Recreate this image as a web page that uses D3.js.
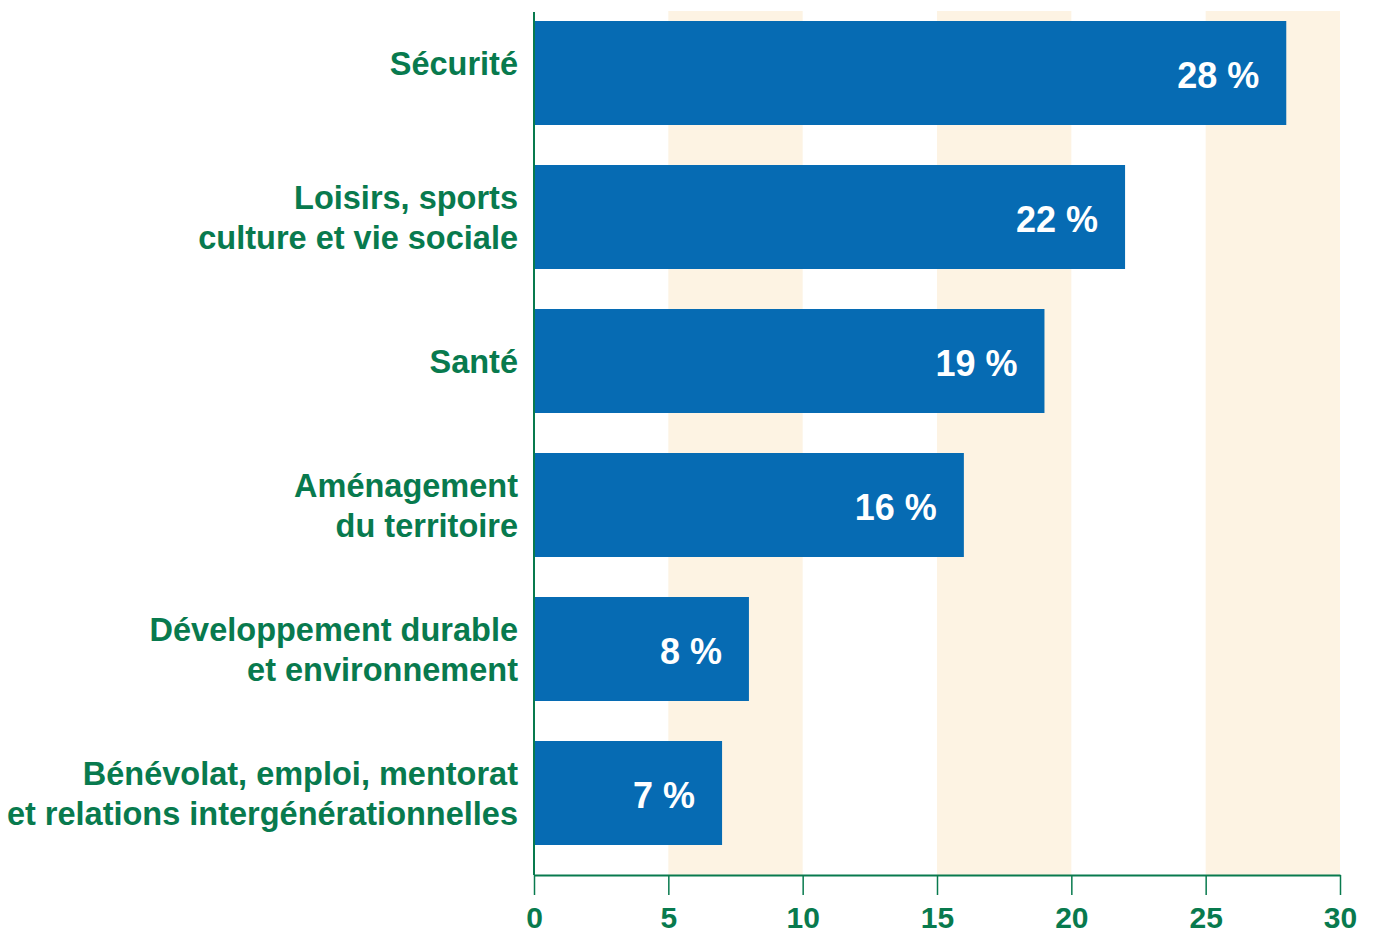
<!DOCTYPE html>
<html>
<head>
<meta charset="utf-8">
<script src="https://cdn.jsdelivr.net/npm/d3@7"></script>
<style>
  html, body { margin: 0; padding: 0; background: #ffffff; }
  svg { display: block; }
  text { font-family: "Liberation Sans", Arial, Helvetica, sans-serif; font-weight: bold; }
</style>
</head>
<body>
<svg id="chart" width="1373" height="937"></svg>
<script>
const categories = [
  ["Sécurité"],
  ["Loisirs, sports", "culture et vie sociale"],
  ["Santé"],
  ["Aménagement", "du territoire"],
  ["Développement durable", "et environnement"],
  ["Bénévolat, emploi, mentorat", "et relations intergénérationnelles"]
];
const values = [28, 22, 19, 16, 8, 7];
const tickValues = [0, 5, 10, 15, 20, 25, 30];
const shadedBands = [[5, 10], [15, 20], [25, 30]];

const GREEN = "#087a4e";
const BLUE = "#066bb3";
const BAND = "#fdf3e3";

const svg = d3.select("#chart");
const keys = categories.map(c => c.join(" "));

const x = d3.scaleLinear().domain([0, 30]).range([534, 1340]);
const y = d3.scaleBand().domain(keys).range([1, 865]).paddingInner(40 / 144).paddingOuter(20 / 144);
const axisY = 875;
const topY = 11;

// shaded bands
svg.append("g").selectAll("rect").data(shadedBands).join("rect")
  .attr("x", d => x(d[0]))
  .attr("width", d => x(d[1]) - x(d[0]))
  .attr("y", topY)
  .attr("height", axisY - topY)
  .attr("fill", BAND);

// bars
svg.append("g").selectAll("rect").data(values).join("rect")
  .attr("x", x(0))
  .attr("y", (d, i) => y(keys[i]))
  .attr("width", d => x(d) - x(0))
  .attr("height", y.bandwidth())
  .attr("fill", BLUE);

// value labels
svg.append("g").selectAll("text").data(values).join("text")
  .attr("x", d => x(d) - 27)
  .attr("y", (d, i) => y(keys[i]) + y.bandwidth() / 2 + 2)
  .attr("dy", "0.36em")
  .attr("text-anchor", "end")
  .attr("fill", "#ffffff")
  .attr("font-size", 36)
  .text(d => d + " %");

// category labels
const lab = svg.append("g").selectAll("text").data(categories).join("text")
  .attr("text-anchor", "end")
  .attr("fill", GREEN)
  .attr("font-size", 32.5)
  .attr("x", 518)
  .attr("y", (d, i) => y(keys[i]) + y.bandwidth() / 2 - (d.length - 1) * 20 - (i === 0 ? 10 : 0));
lab.selectAll("tspan").data(d => d).join("tspan")
  .attr("x", 518)
  .attr("dy", (d, i) => i === 0 ? "0.36em" : 40)
  .text(d => d);

// x axis
const xAxis = d3.axisBottom(x).tickValues(tickValues).tickSize(20).tickPadding(12).tickSizeOuter(0);
const gx = svg.append("g").attr("transform", `translate(0,${axisY})`).call(xAxis);
gx.select(".domain").attr("stroke", GREEN).attr("stroke-width", 2);
gx.selectAll(".tick line").attr("stroke", GREEN).attr("stroke-width", 1.5);
gx.selectAll(".tick text").attr("fill", GREEN).attr("font-size", 30)
  .attr("font-family", "Liberation Sans, Arial, sans-serif").attr("font-weight", "bold");

// y axis line
svg.append("line")
  .attr("x1", x(0)).attr("x2", x(0))
  .attr("y1", 12).attr("y2", axisY)
  .attr("stroke", GREEN).attr("stroke-width", 2);
</script>
</body>
</html>
